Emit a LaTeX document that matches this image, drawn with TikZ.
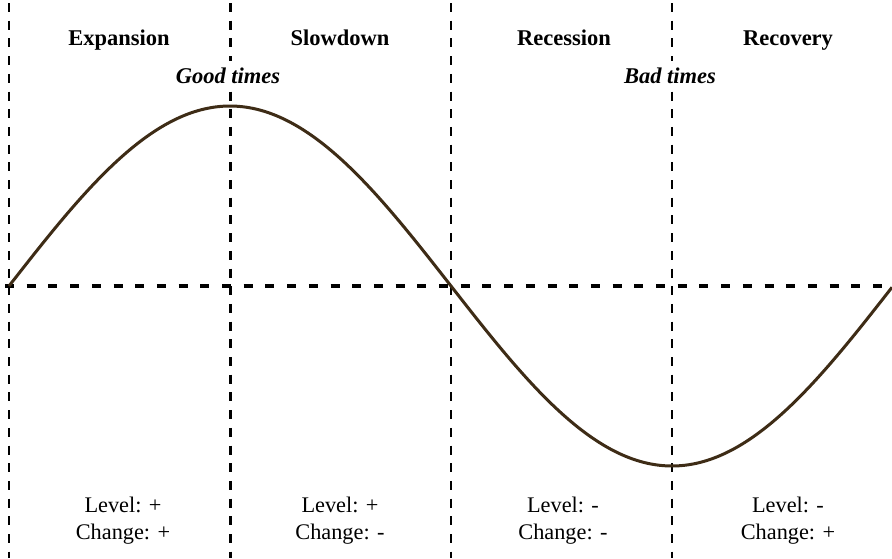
\documentclass[tikz,border=0pt]{standalone}
\usepackage{fontspec}
\setmainfont{Liberation Serif}
\begin{document}
\begin{tikzpicture}[x=1pt,y=-1pt,
  vline/.style={line width=2.4pt, dash pattern=on 9pt off 8.7pt, black},
  hline/.style={line width=3.6pt, dash pattern=on 9pt off 12.7pt, black},
  wave/.style={line width=3pt, draw={rgb,255:red,62;green,44;blue,22}},
  phase/.style={font=\fontsize{22.5}{26}\selectfont\bfseries, anchor=base, inner sep=0pt},
  mood/.style={font=\fontsize{22.5}{26}\selectfont\bfseries\itshape, anchor=base, fill=white, inner sep=6pt},
  sign/.style={font=\fontsize{22.3}{27}\selectfont, align=center, anchor=north, inner sep=0pt}
]
\fill[white] (0,0) rectangle (892,558);
\useasboundingbox (0,0) rectangle (892,558);
% axis
\coordinate (h0) at (5,286);
\coordinate (h1) at (884,286);
\draw[hline] (h0) -- (h1);
% phase borders
\foreach \i/\x in {a/9,b/230.5,c/451,d/672}{
  \coordinate (\i top) at (\x,3);
  \coordinate (\i bot) at (\x,558);
  \draw[vline] (\i top) -- (\i bot);
}
% business cycle
\draw[wave] plot[domain=9:892, samples=240, smooth] (\x, {286-180*sin(((\x-9)/884)*360)});
% labels
\node[phase] (exp) at (119,45) {Expansion};
\node[phase] (slow) at (340,45) {Slowdown};
\node[phase] (rec) at (564,45) {Recession};
\node[phase] (recov) at (788,45) {Recovery};
\node[mood] (good) at (228,83) {Good times};
\node[mood] (bad) at (670,83) {Bad times};
\node[sign] (s1) at (123,497) {Level: +\\Change: +};
\node[sign] (s2) at (340,497) {Level: +\\Change: -};
\node[sign] (s3) at (563,497) {Level: -\\Change: -};
\node[sign] (s4) at (788,497) {Level: -\\Change: +};
\end{tikzpicture}
\end{document}
